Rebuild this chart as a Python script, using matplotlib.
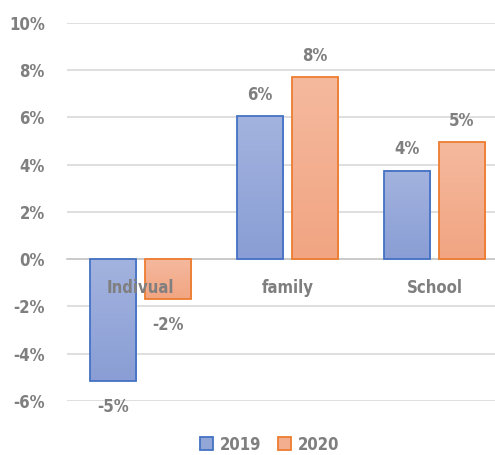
import numpy as np
import matplotlib
matplotlib.use("Agg")
from matplotlib import pyplot as plt
from matplotlib.ticker import PercentFormatter
from matplotlib.colors import LinearSegmentedColormap

# data (percent)
categories = ["Indivual", "family", "School"]
years = ["2019", "2020"]
values_2019 = [-5.15, 6.05, 3.75]
values_2020 = [-1.7, 7.7, 4.95]
labels_2019 = ["-5%", "6%", "4%"]
labels_2020 = ["-2%", "8%", "5%"]

GRAY = "#7f7f7f"
plt.rcParams["font.family"] = ["DejaVu Sans"]
plt.rcParams["axes.unicode_minus"] = False
font = dict(color=GRAY, fontweight="bold", fontstretch="condensed", fontsize=12)

fig = plt.figure(figsize=(4.95, 4.55), dpi=100)
ax = fig.add_axes([0.1354, 0.1187, 0.891, 0.831])

x = np.arange(len(categories))
w = 0.313
off = 0.187
bars1 = ax.bar(x - off, values_2019, w, color="#93a6d8", edgecolor="#4472c4", linewidth=1.3, label=years[0], zorder=3)
bars2 = ax.bar(x + off, values_2020, w, color="#f3ae8f", edgecolor="#ed7d31", linewidth=1.3, label=years[1], zorder=3)

# light-to-dark gradient fill inside each bar
grad = np.linspace(0, 1, 64).reshape(-1, 1)
cm_blue = LinearSegmentedColormap.from_list("b", ["#a3b3df", "#8a9ed5"])
cm_orange = LinearSegmentedColormap.from_list("o", ["#f5b99e", "#f1a582"])
for bars, cm in [(bars1, cm_blue), (bars2, cm_orange)]:
    for b in bars:
        x0, x1 = b.get_x(), b.get_x() + b.get_width()
        y0, y1 = sorted([0, b.get_height()])
        ax.imshow(grad, extent=[x0, x1, y0, y1], aspect="auto", cmap=cm, origin="upper", zorder=3.1)
        b.set_facecolor("none")
        b.set_zorder(3.2)

# data labels
for bars, labs in [(bars1, labels_2019), (bars2, labels_2020)]:
    for b, lab in zip(bars, labs):
        h = b.get_height()
        ax.annotate(lab, (b.get_x() + b.get_width() / 2, h),
                    xytext=(0, 9 if h >= 0 else -12), textcoords="offset points",
                    ha="center", va="bottom" if h >= 0 else "top", **font)

# category labels sit just under the zero line, drawn over the bars
for xi, cat in zip(x, categories):
    ax.annotate(cat, (xi, 0), xytext=(0, -21), textcoords="offset points",
                ha="center", va="center", zorder=5, **font)

ax.set_ylim(-6, 10)
ax.set_xlim(-0.5, 2.5)
ax.set_yticks(np.arange(-6, 11, 2))
ax.yaxis.set_major_formatter(PercentFormatter(decimals=0))
ax.grid(axis="y", color="#d9d9d9", linewidth=1.2, zorder=0)
ax.set_axisbelow(True)

for s in ["top", "right", "left"]:
    ax.spines[s].set_visible(False)
ax.spines["bottom"].set_position(("data", 0))
ax.spines["bottom"].set_color("#c8c8c8")
ax.spines["bottom"].set_linewidth(1.2)

ax.set_xticks([])
ax.tick_params(axis="y", length=0, pad=16)
for t in ax.get_yticklabels():
    t.set_color(GRAY)
    t.set_fontweight("bold")
    t.set_fontstretch("condensed")
    t.set_fontsize(12)

leg = fig.legend(handles=[bars1, bars2], labels=years, loc="lower center",
                 bbox_to_anchor=(0.545, -0.03), ncol=2, frameon=False,
                 handlelength=0.8, handleheight=0.8, handletextpad=0.4, columnspacing=1.0,
                 prop=dict(weight="bold", stretch="condensed", size=12))
for t in leg.get_texts():
    t.set_color(GRAY)
for h, c in zip(leg.legend_handles, ["#93a6d8", "#f3ae8f"]):
    h.set_facecolor(c)

fig.savefig("out.png", dpi=100)
